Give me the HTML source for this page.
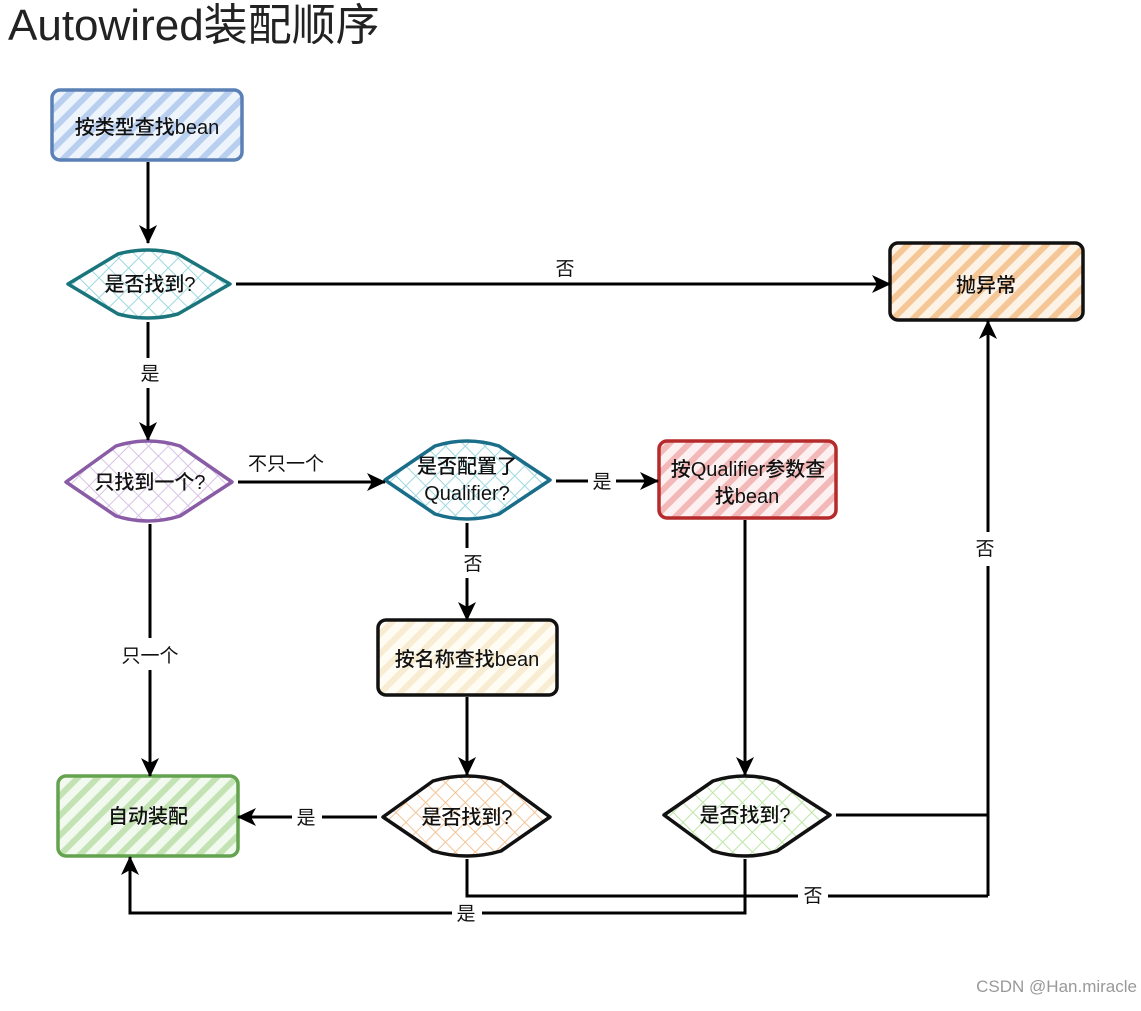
<!DOCTYPE html>
<html><head><meta charset="utf-8"><style>
body{margin:0;background:#fff;width:1141px;height:1006px;overflow:hidden}
svg text{font-family:"Liberation Sans","Noto Sans CJK SC",sans-serif}
</style></head><body>
<svg width="1141" height="1006" viewBox="0 0 1141 1006" xmlns="http://www.w3.org/2000/svg">
<defs>
<pattern id="pb" width="14" height="14" patternUnits="userSpaceOnUse" patternTransform="rotate(45)"><rect width="14" height="14" fill="#eef4fc"/><rect width="6" height="14" fill="#b8cff0"/></pattern>
<pattern id="po" width="14" height="14" patternUnits="userSpaceOnUse" patternTransform="rotate(45)"><rect width="14" height="14" fill="#fdf2e6"/><rect width="6" height="14" fill="#f6c796"/></pattern>
<pattern id="pr" width="14" height="14" patternUnits="userSpaceOnUse" patternTransform="rotate(45)"><rect width="14" height="14" fill="#fdf0f0"/><rect width="6" height="14" fill="#f3b8b8"/></pattern>
<pattern id="pc" width="14" height="14" patternUnits="userSpaceOnUse" patternTransform="rotate(45)"><rect width="14" height="14" fill="#fffcf3"/><rect width="6" height="14" fill="#f8ecd2"/></pattern>
<pattern id="pg" width="14" height="14" patternUnits="userSpaceOnUse" patternTransform="rotate(45)"><rect width="14" height="14" fill="#f2f9ee"/><rect width="6" height="14" fill="#c4e3b4"/></pattern>
<pattern id="xt" width="14" height="14" patternUnits="userSpaceOnUse" patternTransform="rotate(45)"><rect width="14" height="14" fill="#fff"/><path d="M0 0V14M0 0H14" stroke="#9ed8e0" stroke-width="2"/></pattern>
<pattern id="xp" width="14" height="14" patternUnits="userSpaceOnUse" patternTransform="rotate(45)"><rect width="14" height="14" fill="#fff"/><path d="M0 0V14M0 0H14" stroke="#d8c2e6" stroke-width="2"/></pattern>
<pattern id="xo" width="14" height="14" patternUnits="userSpaceOnUse" patternTransform="rotate(45)"><rect width="14" height="14" fill="#fff"/><path d="M0 0V14M0 0H14" stroke="#f4c496" stroke-width="2"/></pattern>
<pattern id="xg" width="14" height="14" patternUnits="userSpaceOnUse" patternTransform="rotate(45)"><rect width="14" height="14" fill="#fff"/><path d="M0 0V14M0 0H14" stroke="#bde6a6" stroke-width="2"/></pattern>
<marker id="a" markerWidth="20" markerHeight="20" refX="18" refY="9" orient="auto" markerUnits="userSpaceOnUse"><path d="M0 0L19 9L0 18L5 9Z" fill="#000"/></marker>
</defs>
<text x="8" y="40" font-size="44" fill="#222">Autowired装配顺序</text>

<g stroke-width="3.5" stroke-linejoin="round">
<rect x="52" y="90" width="190" height="70" rx="8" fill="url(#pb)" stroke="#5a80b6"/>
<rect x="890" y="243" width="193" height="77" rx="8" fill="url(#po)" stroke="#111"/>
<rect x="659" y="441" width="177" height="77" rx="8" fill="url(#pr)" stroke="#b52a2a"/>
<rect x="378" y="620" width="179" height="75" rx="8" fill="url(#pc)" stroke="#111"/>
<rect x="58" y="776" width="180" height="80" rx="8" fill="url(#pg)" stroke="#64a34e"/>
<path d="M68 284 L118 254 Q148 246 178 254 L230 284 L178 314 Q148 322 118 314 Z" fill="url(#xt)" stroke="#1a767c"/>
<path d="M66 482 L116 446 Q148 436 180 446 L232 482 L180 516 Q148 526 116 516 Z" fill="url(#xp)" stroke="#8a5ca6"/>
<path d="M385 480 L435 446 Q467 436 499 446 L550 480 L499 514 Q467 524 435 514 Z" fill="url(#xt)" stroke="#1a6e8a"/>
<path d="M383 817 L433 781 Q467 771 501 781 L550 817 L501 851 Q467 861 433 851 Z" fill="url(#xo)" stroke="#111"/>
<path d="M664 815 L713 781 Q745 771 777 781 L830 815 L777 851 Q745 861 713 851 Z" fill="url(#xg)" stroke="#111"/>
</g>

<g stroke="#000" stroke-width="3" fill="none">
<line x1="148" y1="162" x2="148" y2="243" marker-end="url(#a)"/>
<line x1="236" y1="284" x2="890" y2="284" marker-end="url(#a)"/>
<line x1="148" y1="322" x2="148" y2="358"/>
<line x1="148" y1="388" x2="148" y2="440" marker-end="url(#a)"/>
<line x1="238" y1="482" x2="385" y2="482" marker-end="url(#a)"/>
<line x1="556" y1="481" x2="588" y2="481"/>
<line x1="616" y1="481" x2="658" y2="481" marker-end="url(#a)"/>
<line x1="467" y1="523" x2="467" y2="548"/>
<line x1="467" y1="578" x2="467" y2="620" marker-end="url(#a)"/>
<line x1="467" y1="697" x2="467" y2="775" marker-end="url(#a)"/>
<line x1="377" y1="817" x2="322" y2="817"/>
<line x1="292" y1="817" x2="238" y2="817" marker-end="url(#a)"/>
<line x1="150" y1="524" x2="150" y2="638"/>
<line x1="150" y1="670" x2="150" y2="776" marker-end="url(#a)"/>
<line x1="745" y1="520" x2="745" y2="775" marker-end="url(#a)"/>
<polyline points="836,815 988,815 988,566"/>
<line x1="988" y1="532" x2="988" y2="321" marker-end="url(#a)"/>
<polyline points="467,859 467,896 798,896"/>
<line x1="828" y1="896" x2="988" y2="896"/>
<line x1="988" y1="896" x2="988" y2="815"/>
<polyline points="745,859 745,913 482,913"/>
<polyline points="452,913 130,913 130,857" marker-end="url(#a)"/>
</g>

<g font-size="20" fill="#111" text-anchor="middle" font-weight="500">
<text x="147" y="134">按类型查找bean</text>
<text x="986" y="292">抛异常</text>
<text x="748" y="476">按Qualifier参数查</text>
<text x="747" y="503">找bean</text>
<text x="467" y="666">按名称查找bean</text>
<text x="148" y="823">自动装配</text>
<text x="150" y="291">是否找到?</text>
<text x="150" y="489">只找到一个?</text>
<text x="467" y="473">是否配置了</text>
<text x="467" y="500">Qualifier?</text>
<text x="467" y="824">是否找到?</text>
<text x="745" y="822">是否找到?</text>
</g>
<g font-size="19" fill="#111" text-anchor="middle">
<text x="565" y="275">否</text>
<text x="150" y="380">是</text>
<text x="286" y="470">不只一个</text>
<text x="602" y="488">是</text>
<text x="473" y="570">否</text>
<text x="306" y="824">是</text>
<text x="150" y="662">只一个</text>
<text x="985" y="555">否</text>
<text x="813" y="902">否</text>
<text x="466" y="920">是</text>
</g>
<text x="1137" y="992" font-size="17" fill="#999" text-anchor="end">CSDN @Han.miracle</text>
</svg>
</body></html>
